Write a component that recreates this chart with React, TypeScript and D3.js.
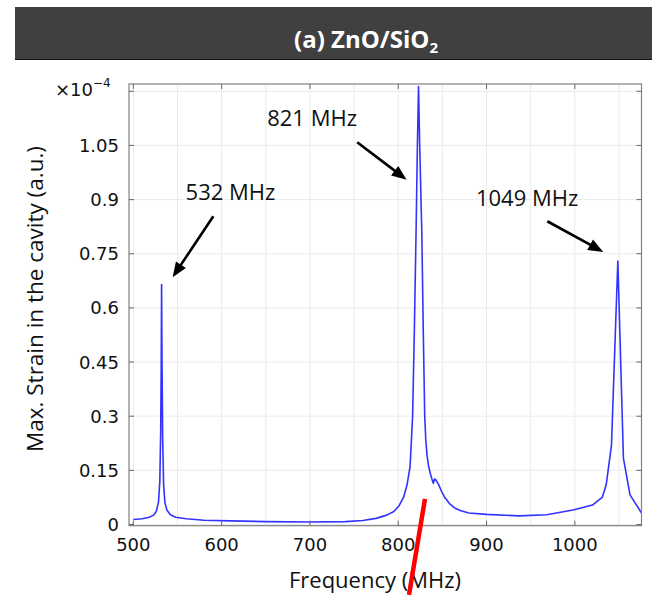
import React from 'react';
import * as d3 from 'd3';

// Spectrum (frequency in MHz, strain in units of 1e-4)
const freqMHz = [
  500, 510, 518, 523, 526, 528.5, 530, 531, 531.6, 532, 532.5, 533.2, 534.3, 535.8, 538, 542, 548, 560, 580, 610,
  650, 700, 740, 760, 775, 787, 795, 801, 806, 810, 813.4, 816.3, 818.2, 820.2, 821.7, 823, 824.3, 826.7, 828.4, 830,
  831.2, 832.7, 834.5, 836.5, 838.3, 839.8, 841, 842.5, 845.5, 849, 853, 858, 864, 871, 880, 900, 937, 968, 998, 1020, 1031, 1035.5, 1041.5,
  1048.7, 1055, 1062.5, 1075.5,
];
const strain = [
  0.014, 0.016, 0.02, 0.026, 0.036, 0.062, 0.12, 0.26, 0.45, 0.665, 0.45, 0.24, 0.11, 0.06, 0.04, 0.027, 0.02, 0.016, 0.012, 0.01,
  0.008, 0.007, 0.008, 0.011, 0.017, 0.026, 0.036, 0.052, 0.075, 0.11, 0.16, 0.3, 0.53, 0.81, 1.05, 1.213, 1.05, 0.81, 0.53, 0.3,
  0.234, 0.19, 0.16, 0.14, 0.125, 0.114, 0.126, 0.124, 0.112, 0.092, 0.074, 0.058, 0.046, 0.038, 0.032, 0.028, 0.024, 0.027, 0.04, 0.054, 0.075, 0.11, 0.22,
  0.73, 0.184, 0.082, 0.032,
];

const xTicks = [500, 600, 700, 800, 900, 1000];
const xGridLines = [500, 550, 600, 650, 700, 750, 800, 850, 900, 950, 1000, 1050];
const yTicks = [0, 0.15, 0.3, 0.45, 0.6, 0.75, 0.9, 1.05, 1.2];
const yTickLabels = ['0', '0.15', '0.3', '0.45', '0.6', '0.75', '0.9', '1.05', ''];

const peakLabels = ['532 MHz', '821 MHz', '1049 MHz'];
const peakLabelAt = [[559.2, 0.8975], [651.6, 1.105], [888, 0.882]];
const arrowFrom = [[590.6, 0.854], [753.5, 1.059], [968.8, 0.84]];
const arrowTo = [[544.5, 0.685], [809.5, 0.955], [1032.2, 0.755]];
const markFrom = [830.3, 0.071];
const markTo = [812.2, -0.195];

const W = 652;
const H = 596;
const left = 129, right = 641.5, top = 84, bottom = 525.7;

export default function App() {
  const x = d3.scaleLinear().domain([495.1, 1075.5]).range([left, right]);
  const y = d3.scaleLinear().domain([-0.0033, 1.2202]).range([bottom, top]);
  const line = d3.line<number>().x((_, i) => x(freqMHz[i])).y((d) => y(d)).curve(d3.curveLinear);
  const path = line(strain) || '';
  const tickFont = "'DejaVu Sans', sans-serif";
  const textFont = "'Open Sans', sans-serif";

  const arrows = arrowFrom.map((f, i) => {
    const x1 = x(f[0]), y1 = y(f[1]);
    const x2 = x(arrowTo[i][0]), y2 = y(arrowTo[i][1]);
    const dx = x2 - x1, dy = y2 - y1;
    const len = Math.hypot(dx, dy);
    const ux = dx / len, uy = dy / len;
    const hl = 15, hw = 6;
    const bx = x2 - ux * hl, by = y2 - uy * hl;
    const pts = `${x2},${y2} ${bx - uy * hw},${by + ux * hw} ${bx + uy * hw},${by - ux * hw}`;
    return { x1, y1, bx: x2 - ux * (hl - 2), by: y2 - uy * (hl - 2), pts };
  });

  return (
    <svg width={W} height={H} style={{ position: 'absolute', left: 0, top: 0, background: '#fff' }}>
      {/* title bar */}
      <rect x={15} y={7} width={W - 15} height={52} fill="#404040" />
      <line x1={15} x2={W} y1={59.5} y2={59.5} stroke="#111" strokeWidth={1} />
      <text x={366} y={48} textAnchor="middle" fill="#fff" fontFamily={textFont} fontWeight="bold" fontSize={24}>
        (a) ZnO/SiO<tspan fontSize={15} dy={5}>2</tspan>
      </text>

      {/* grid */}
      {xGridLines.map((v) => (
        <line key={'gx' + v} x1={x(v)} x2={x(v)} y1={top} y2={bottom} stroke="#ebebeb" strokeWidth={1} />
      ))}
      {yTicks.map((v) => (
        <line key={'gy' + v} x1={left} x2={right} y1={y(v)} y2={y(v)} stroke="#ebebeb" strokeWidth={1} />
      ))}

      {/* curve */}
      <path d={path} fill="none" stroke="#3333ff" strokeWidth={1.6} strokeLinejoin="round" />

      {/* frame */}
      <rect x={left} y={top} width={right - left} height={bottom - top} fill="none" stroke="#808080" strokeWidth={1.2} />
      {xTicks.map((v) => (
        <g key={'tx' + v}>
          <line x1={x(v)} x2={x(v)} y1={bottom} y2={bottom - 5} stroke="#666" />
          <line x1={x(v)} x2={x(v)} y1={top} y2={top + 5} stroke="#666" />
          <text x={x(v)} y={551} textAnchor="middle" fontFamily={tickFont} fontSize={18} fill="#111">{v}</text>
        </g>
      ))}
      {yTicks.map((v, i) => (
        <g key={'ty' + v}>
          <line x1={left} x2={left + 5} y1={y(v)} y2={y(v)} stroke="#666" />
          <line x1={right} x2={right - 5} y1={y(v)} y2={y(v)} stroke="#666" />
          <text x={119} y={y(v) + 6.5} textAnchor="end" fontFamily={tickFont} fontSize={18} fill="#111">{yTickLabels[i]}</text>
        </g>
      ))}
      <text x={55} y={96} fontFamily={tickFont} fontSize={18} fill="#111">
        ×10<tspan fontSize={12} dy={-9}>−4</tspan>
      </text>

      {/* axis titles */}
      <text x={375} y={588} textAnchor="middle" fontFamily={textFont} fontSize={22} fill="#111">Frequency (MHz)</text>
      <text transform={`translate(43,299) rotate(-90)`} textAnchor="middle" fontFamily={textFont} fontSize={22.5} fill="#111">
        Max. Strain in the cavity (a.u.)
      </text>

      {/* annotations */}
      {peakLabels.map((t, i) => (
        <text key={t} x={x(peakLabelAt[i][0])} y={y(peakLabelAt[i][1])} fontFamily={textFont} fontSize={22} fill="#111">{t}</text>
      ))}
      {arrows.map((a, i) => (
        <g key={'ar' + i}>
          <line x1={a.x1} y1={a.y1} x2={a.bx} y2={a.by} stroke="#000" strokeWidth={2.6} />
          <polygon points={a.pts} fill="#000" />
        </g>
      ))}

      {/* red mark */}
      <line x1={x(markFrom[0])} y1={y(markFrom[1])} x2={x(markTo[0])} y2={y(markTo[1])} stroke="#ff0000" strokeWidth={4.5} />
    </svg>
  );
}
